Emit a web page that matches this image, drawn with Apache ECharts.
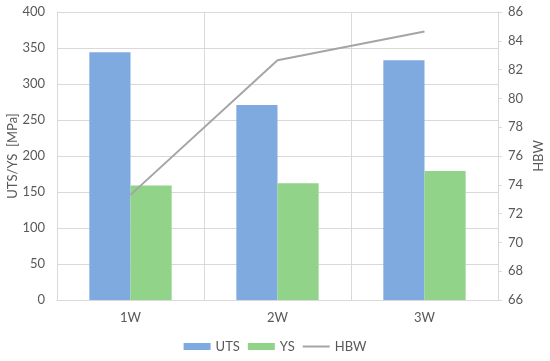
<!DOCTYPE html>
<html><head><meta charset="utf-8">
<script src="https://cdn.jsdelivr.net/npm/echarts@6/dist/echarts.min.js"></script>
<style>html,body{margin:0;padding:0;background:#fff}#c{width:550px;height:361px}</style>
</head><body><div id="c"></div>
<script>
const categories = ['1W', '2W', '3W'];
const utsValues = [344, 271, 333];
const ysValues = [159, 162, 179];
const hbwValues = [73.3, 82.65, 84.65];

const txt = '#595959';
const font = 'Lato';
const chart = echarts.init(document.getElementById('c'));
chart.setOption({
  animation: false,
  textStyle: { fontFamily: font, color: txt },
  grid: { left: 57, right: 52, top: 12, bottom: 61, containLabel: false, outerBoundsMode: 'none' },
  legend: {
    bottom: 3, left: 'center', itemWidth: 27, itemHeight: 7, itemGap: 8,
    textStyle: { fontFamily: font, color: txt, fontSize: 13 },
    data: [
      { name: 'UTS', icon: 'rect' },
      { name: 'YS', icon: 'rect' },
      { name: 'HBW', icon: 'path://M0,0 L27,0 L27,2 L0,2 Z', itemStyle: { color: '#A5A5A5' } }
    ]
  },
  xAxis: {
    type: 'category', data: categories,
    axisLine: { lineStyle: { color: '#d9d9d9' } },
    axisTick: { show: false },
    splitLine: { show: true, lineStyle: { color: '#d9d9d9' } },
    axisLabel: { color: txt, fontSize: 13, margin: 11 }
  },
  yAxis: [
    {
      type: 'value', min: 0, max: 400, interval: 50,
      name: 'UTS/YS  [MPa]', nameLocation: 'middle', nameGap: 38, nameRotate: 90, nameMoveOverlap: false,
      nameTextStyle: { color: txt, fontSize: 13, fontFamily: font },
      axisLine: { show: true, lineStyle: { color: '#d9d9d9' } },
      axisTick: { show: false },
      splitLine: { lineStyle: { color: '#d9d9d9' } },
      axisLabel: { color: txt, fontSize: 13, margin: 12 }
    },
    {
      type: 'value', min: 66, max: 86, interval: 2,
      name: 'HBW', nameLocation: 'middle', nameGap: 34, nameRotate: 90, nameMoveOverlap: false,
      nameTextStyle: { color: txt, fontSize: 13, fontFamily: font },
      axisLine: { show: true, lineStyle: { color: '#d9d9d9' } },
      axisTick: { show: true, length: 4, lineStyle: { color: '#d9d9d9' } },
      splitLine: { show: false },
      axisLabel: { color: txt, fontSize: 13, margin: 10 }
    }
  ],
  series: [
    { name: 'UTS', type: 'bar', data: utsValues, barGap: '0%', barCategoryGap: '44%',
      itemStyle: { color: '#7FAADF' } },
    { name: 'YS', type: 'bar', data: ysValues,
      itemStyle: { color: '#92D38A' } },
    { name: 'HBW', type: 'line', yAxisIndex: 1, data: hbwValues, symbol: 'none',
      lineStyle: { color: '#A5A5A5', width: 2 }, itemStyle: { color: '#A5A5A5' } }
  ]
});
</script></body></html>
